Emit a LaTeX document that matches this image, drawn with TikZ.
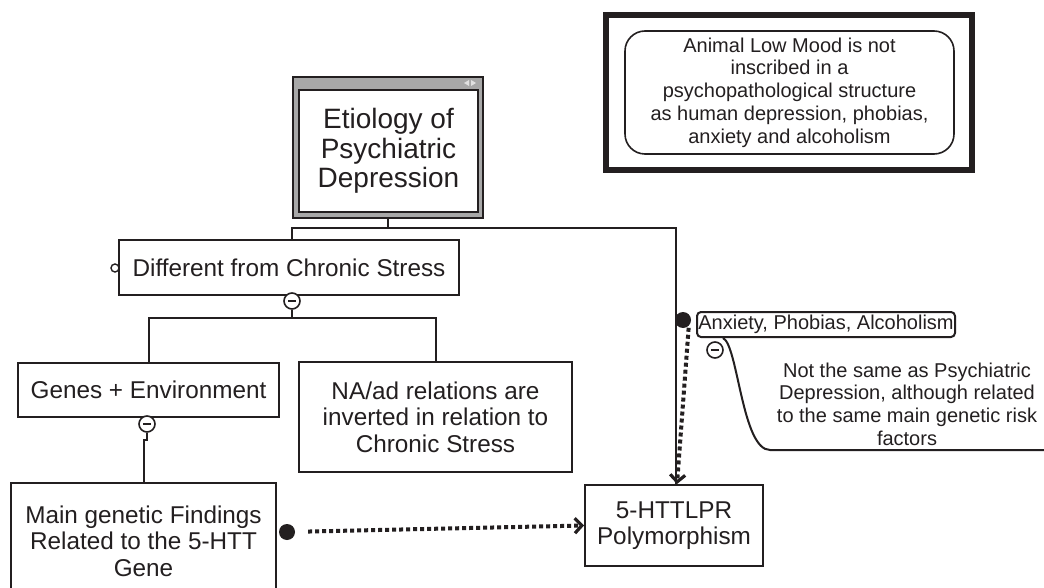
\documentclass[tikz,border=0pt]{standalone}
\usepackage{fontspec}
\setmainfont{Liberation Sans}
\usetikzlibrary{arrows.meta}
\definecolor{ink}{RGB}{35,31,32}
\definecolor{frameg}{RGB}{168,168,168}
\definecolor{iconc}{RGB}{225,225,225}
\tikzset{
  box/.style={draw=ink, line width=2pt, fill=white, inner sep=0pt, align=center, text=ink},
  ftf/.style={font=\fontsize{24.3}{26.5}\selectfont},
  ftw/.style={font=\fontsize{20}{22.7}\selectfont},
  fte/.style={font=\fontsize{28}{29.5}\selectfont},
  conn/.style={draw=ink, line width=2pt},
  minusc/.style={circle, draw=ink, fill=white, minimum size=16pt, inner sep=0pt, line width=1.6pt,
    path picture={\draw[ink, line width=2pt] ([xshift=-4pt]path picture bounding box.center) -- ([xshift=4pt]path picture bounding box.center);}},
  blackdot/.style={circle, fill=ink, minimum size=16pt, inner sep=0pt},
  dotc/.style={draw=ink, line width=4pt, dash pattern=on 4pt off 3pt,
    -{Straight Barb[length=7pt, width=15pt, line width=3.2pt]}},
}
\begin{document}
\begin{tikzpicture}[x=1pt, y=-1pt]
\fill[white] (0,0) rectangle (1044,588);
\useasboundingbox (0,0) rectangle (1044,588);
\clip (0,0) rectangle (1044,588);

% top-right framed note
\node[draw=ink, line width=6pt, fill=white, minimum width=366, minimum height=155] (frame) at (789,92.5) {};
\node[box, ftw, line width=1.6pt, rounded corners=20pt, minimum width=329, minimum height=123] (low) at (789.5,92.5)
  {Animal Low Mood is not\\inscribed in a\\psychopathological structure\\as human depression, phobias,\\anxiety and alcoholism};

% etiology box
\node[draw=ink, line width=1.6pt, fill=frameg, minimum width=190, minimum height=141, inner sep=0pt] (etioframe) at (388,147.5) {};
\node[box, fte, minimum width=179, minimum height=122] (etio) at (388.5,151) {Etiology of\\Psychiatric\\Depression};
\fill[iconc] (469,80) -- (464,83) -- (469,86) -- cycle;
\fill[iconc] (471,80) -- (476,83) -- (471,86) -- cycle;

% main boxes
\node[box, ftf, minimum width=340, minimum height=55] (diff) at (289,267.5) {Different from Chronic Stress};
\node[box, ftf, minimum width=261, minimum height=54] (genes) at (148.5,390) {Genes + Environment};
\node[box, ftf, minimum width=273, minimum height=110] (na) at (435.5,417) {NA/ad relations are\\inverted in relation to\\Chronic Stress};
\node[box, ftf, minimum width=265, minimum height=116] (main) at (143.5,541) {Main genetic Findings\\Related to the 5-HTT\\Gene};
\node[box, ftf, minimum width=178, minimum height=81] (htt) at (674,525.5) {5-HTTLPR\\Polymorphism};
\node[box, ftw, rounded corners=4pt, minimum width=258, minimum height=25] (anx) at (826,324.5) {Anxiety, Phobias, Alcoholism};
\node[ftw, align=center, text=ink, inner sep=0pt] (note) at (907,404)
  {Not the same as Psychiatric\\Depression, although related\\to the same main genetic risk\\factors};

% tree connectors
\coordinate (bus) at (388,228);
\draw[conn] (etioframe.south) -- (bus);
\draw[conn] (bus) -| ([xshift=3pt]diff.north);
\draw[conn] ([xshift=-2pt]bus) -| ([xshift=2pt]htt.north);

\node[circle, draw=ink, fill=white, line width=1.4pt, minimum size=8pt, inner sep=0pt] (oc) at (115,268) {};

\node[minusc] (m1) at (292,301) {};
\coordinate (b1) at (292,318);
\draw[conn] (m1.south) -- (b1);
\draw[conn] (b1) -| (genes.north);
\draw[conn] (b1) -| (na.north);

\node[minusc] (m2) at (147,424) {};
\coordinate (b2a) at (147,440);
\coordinate (b2b) at (143.5,440);
\draw[conn] (m2.south) -- (b2a) -- (b2b) -- (main.north);

% dotted relations
\node[blackdot] (d1) at (287,532) {};
\draw[dotc, shorten <=13pt] (d1) -- (htt.west);
\node[blackdot] (d2) at (683,320) {};
\draw[dotc, shorten <=2pt] (d2.south east) -- ([xshift=3pt]htt.north);

% anxiety annotation
\node[minusc] (m3) at (715,350) {};
\coordinate (ce) at (1044,450);
\draw[conn] ([xshift=27pt]anx.south west) .. controls (738,345) and (742,450) .. (770,450) -- (ce);
\end{tikzpicture}
\end{document}
